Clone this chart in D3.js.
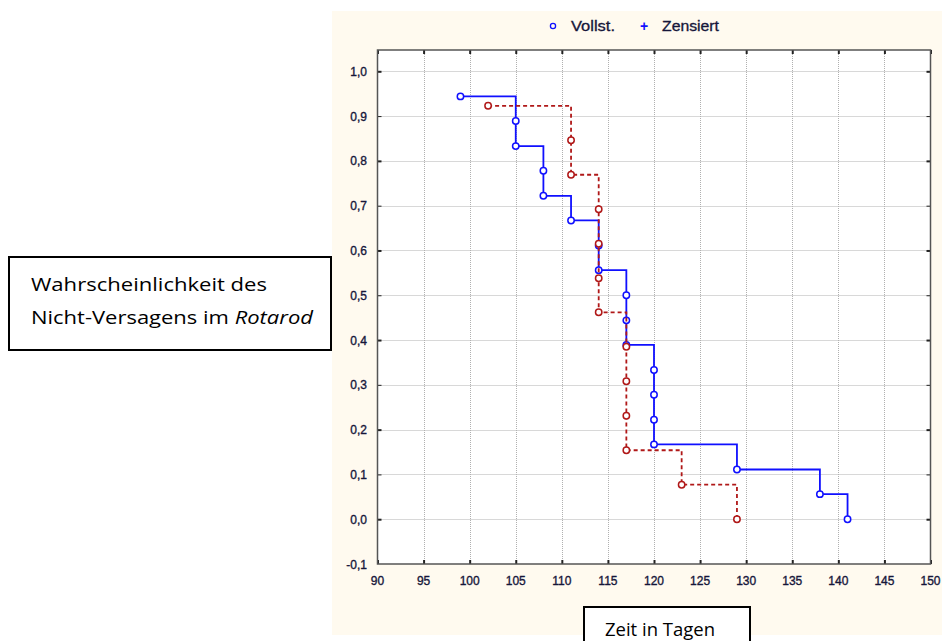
<!DOCTYPE html>
<html>
<head>
<meta charset="utf-8">
<script src="https://cdn.jsdelivr.net/npm/d3@7"></script>
<style>
  body { margin: 0; background: #fff; }
  svg { display: block; }
</style>
</head>
<body>
<script>
(function () {
  'use strict';

  // Gruppe 1 (blau, durchgezogen): Zeitpunkte der Ereignisse und Überlebenswahrscheinlichkeit
  const blueTimes = [99, 105, 105, 108, 108, 111, 114, 114, 117, 117, 117, 120, 120, 120, 120, 129, 138, 141];
  const blueSurv = [0.944, 0.889, 0.833, 0.778, 0.722, 0.667, 0.611, 0.556, 0.500, 0.444, 0.389,
                    0.333, 0.278, 0.222, 0.167, 0.111, 0.056, 0.000];

  // Gruppe 2 (rot, gestrichelt)
  const redTimes = [102, 111, 111, 114, 114, 114, 114, 117, 117, 117, 117, 123, 129];
  const redSurv = [0.923, 0.846, 0.769, 0.692, 0.615, 0.538, 0.462, 0.385, 0.308, 0.231, 0.154, 0.077, 0.000];

  const xTicks = [90, 95, 100, 105, 110, 115, 120, 125, 130, 135, 140, 145, 150];
  const yTicks = [-0.1, 0.0, 0.1, 0.2, 0.3, 0.4, 0.5, 0.6, 0.7, 0.8, 0.9, 1.0];

  const W = 942, H = 641;
  const plot = {left: 377.5, right: 930.5, top: 50, bottom: 564};
  const labelColor = "#16163a";

  const svg = d3.select("body").append("svg")
    .attr("width", W)
    .attr("height", H);

  svg.append("rect").attr("width", W).attr("height", H).attr("fill", "#fff");

  // cremefarbener Hintergrund
  svg.append("rect")
    .attr("x", 332).attr("y", 11)
    .attr("width", W - 332).attr("height", 624)
    .attr("fill", "#fffaef");

  const x = d3.scaleLinear().domain([90, 150]).range([plot.left, plot.right]);
  const y = d3.scaleLinear().domain([-0.1, 1.0]).range([plot.bottom, 71.3]);

  svg.append("rect")
    .attr("x", plot.left).attr("y", plot.top)
    .attr("width", plot.right - plot.left).attr("height", plot.bottom - plot.top)
    .attr("fill", "#fff");

  // Gitterlinien
  const grid = svg.append("g")
    .attr("stroke", "#b0b0b0")
    .attr("stroke-width", 1)
    .attr("stroke-dasharray", "1,1");

  grid.selectAll("line.v")
    .data(xTicks.slice(1, -1))
    .enter().append("line")
    .attr("class", "v")
    .attr("x1", d => Math.round(x(d)) + 0.5).attr("x2", d => Math.round(x(d)) + 0.5)
    .attr("y1", plot.top).attr("y2", plot.bottom);

  grid.selectAll("line.h")
    .data(yTicks.slice(1))
    .enter().append("line")
    .attr("class", "h")
    .attr("x1", plot.left).attr("x2", plot.right)
    .attr("y1", d => Math.round(y(d)) + 0.5).attr("y2", d => Math.round(y(d)) + 0.5);

  // Achsen mit Ticks nach innen
  const tickLen = 4;
  svg.append("g")
    .attr("transform", `translate(0,${plot.top})`)
    .call(d3.axisBottom(x).tickValues(xTicks).tickSize(tickLen).tickFormat(""))
    .call(g => g.select(".domain").remove());
  svg.append("g")
    .attr("transform", `translate(0,${plot.bottom})`)
    .call(d3.axisTop(x).tickValues(xTicks).tickSize(tickLen).tickFormat(""))
    .call(g => g.select(".domain").remove());
  svg.append("g")
    .attr("transform", `translate(${plot.left},0)`)
    .call(d3.axisRight(y).tickValues(yTicks.slice(1)).tickSize(tickLen).tickFormat(""))
    .call(g => g.select(".domain").remove());
  svg.append("g")
    .attr("transform", `translate(${plot.right},0)`)
    .call(d3.axisLeft(y).tickValues(yTicks.slice(1)).tickSize(tickLen).tickFormat(""))
    .call(g => g.select(".domain").remove());
  svg.selectAll(".tick line")
    .attr("stroke", "#222")
    .attr("stroke-width", d => (Math.round(d * 10) % 2 === 0 ? 2 : 1));

  // Rahmen
  svg.append("rect")
    .attr("x", plot.left).attr("y", plot.top)
    .attr("width", plot.right - plot.left).attr("height", plot.bottom - plot.top)
    .attr("fill", "none")
    .attr("stroke", "#555")
    .attr("stroke-width", 1.5);

  // Beschriftungen
  const fmt = v => (v < 0 ? "-" : "") + Math.abs(v).toFixed(1).replace(".", ",");
  svg.append("g").selectAll("text")
    .data(yTicks)
    .enter().append("text")
    .attr("x", 367)
    .attr("y", d => y(d) + 4.5)
    .attr("text-anchor", "end")
    .attr("font-family", "Liberation Sans, Arial, sans-serif")
    .attr("font-size", "12px")
    .attr("fill", labelColor)
    .attr("stroke", labelColor)
    .attr("stroke-width", 0.35)
    .text(fmt);

  svg.append("g").selectAll("text")
    .data(xTicks)
    .enter().append("text")
    .attr("x", d => x(d))
    .attr("y", 584.5)
    .attr("text-anchor", "middle")
    .attr("font-family", "Liberation Sans, Arial, sans-serif")
    .attr("font-size", "12px")
    .attr("fill", labelColor)
    .attr("stroke", labelColor)
    .attr("stroke-width", 0.35)
    .text(d => d);

  // Treppenkurven
  function stepPoints(times, surv) {
    const pts = [];
    times.forEach(function (t, i) {
      if (i === times.length - 1 || times[i + 1] !== t) pts.push([t, surv[i]]);
    });
    return pts;
  }

  const stepLine = d3.line()
    .x(d => x(d[0]))
    .y(d => y(d[1]))
    .curve(d3.curveStepAfter);

  const series = [
    {times: blueTimes, surv: blueSurv, color: "#1010ff", dash: null},
    {times: redTimes, surv: redSurv, color: "#b01818", dash: "4,3"}
  ];

  series.forEach(function (s) {
    svg.append("path")
      .datum(stepPoints(s.times, s.surv))
      .attr("d", stepLine)
      .attr("fill", "none")
      .attr("stroke", s.color)
      .attr("stroke-width", 1.8)
      .attr("stroke-dasharray", s.dash);

    svg.append("g").selectAll("circle")
      .data(s.times.map((t, i) => [t, s.surv[i]]))
      .enter().append("circle")
      .attr("cx", d => x(d[0]))
      .attr("cy", d => y(d[1]))
      .attr("r", 3.2)
      .attr("fill", "#fff")
      .attr("stroke", s.color)
      .attr("stroke-width", 1.5);
  });

  // Legende
  const legend = svg.append("g")
    .attr("font-family", "Liberation Sans Narrow, Liberation Sans, Arial, sans-serif")
    .attr("font-size", "14px");
  legend.append("circle")
    .attr("cx", 553).attr("cy", 26).attr("r", 2.6)
    .attr("fill", "none").attr("stroke", "#1010ff").attr("stroke-width", 1.3);
  legend.append("text").attr("x", 571).attr("y", 31)
    .attr("fill", labelColor).attr("stroke", labelColor).attr("stroke-width", 0.3)
    .attr("textLength", 44).attr("lengthAdjust", "spacingAndGlyphs").text("Vollst.");
  legend.append("text").attr("x", 644).attr("y", 31).attr("text-anchor", "middle")
    .attr("fill", "#1010ff").attr("font-weight", "bold").text("+");
  legend.append("text").attr("x", 662).attr("y", 31)
    .attr("fill", labelColor).attr("stroke", labelColor).attr("stroke-width", 0.3)
    .attr("textLength", 57).attr("lengthAdjust", "spacingAndGlyphs").text("Zensiert");

  // Textfelder
  svg.append("rect")
    .attr("x", 9).attr("y", 257)
    .attr("width", 322).attr("height", 93)
    .attr("fill", "#fff").attr("stroke", "#000").attr("stroke-width", 2);
  const yTitle = svg.append("g")
    .attr("font-family", "'Open Sans', Lato, sans-serif")
    .attr("font-size", "19px")
    .attr("fill", "#000");
  yTitle.append("text").attr("x", 31).attr("y", 291)
    .attr("textLength", 236).attr("lengthAdjust", "spacingAndGlyphs")
    .text("Wahrscheinlichkeit des");
  const l2 = yTitle.append("text").attr("x", 31).attr("y", 324)
    .attr("textLength", 282).attr("lengthAdjust", "spacingAndGlyphs");
  l2.append("tspan").text("Nicht-Versagens im ");
  l2.append("tspan").attr("font-style", "italic").text("Rotarod");

  svg.append("rect")
    .attr("x", 584).attr("y", 607)
    .attr("width", 166).attr("height", 50)
    .attr("fill", "#fff").attr("stroke", "#000").attr("stroke-width", 2);
  svg.append("text")
    .attr("x", 605).attr("y", 636)
    .attr("font-family", "'Open Sans', Lato, sans-serif")
    .attr("font-size", "18px")
    .attr("textLength", 110).attr("lengthAdjust", "spacingAndGlyphs")
    .attr("fill", "#000")
    .text("Zeit in Tagen");
})();
</script>
</body>
</html>
